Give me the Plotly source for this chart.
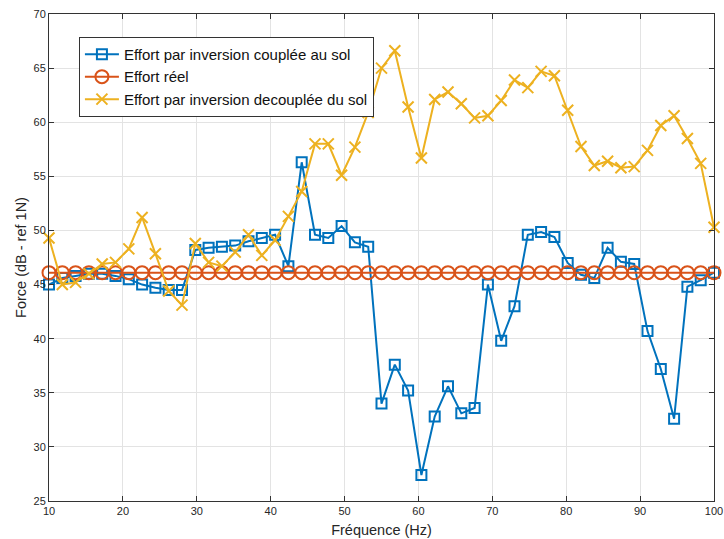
import plotly.graph_objects as go

freq = [round(10 + 1.8 * i, 1) for i in range(51)]

couplee = [45.0, 45.6, 45.8, 46.0, 46.0, 45.8, 45.5, 45.0, 44.7, 44.5,
           44.5, 48.2, 48.4, 48.5, 48.6, 49.0, 49.3, 49.6, 46.7, 56.3,
           49.6, 49.3, 50.4, 48.9, 48.5, 34.0, 37.6, 35.2, 27.4, 32.8,
           35.6, 33.1, 33.6, 45.0, 39.8, 43.0, 49.6, 49.85, 49.4, 47.0,
           45.9, 45.6, 48.4, 47.1, 46.9, 40.7, 37.2, 32.6, 44.8, 45.4,
           46.1]

reel = [46.1] * 51

decouplee = [49.3, 45.0, 45.2, 46.0, 46.9, 47.05, 48.3, 51.2, 47.85, 44.4,
             43.1, 48.8, 47.05, 46.7, 48.0, 49.6, 47.7, 49.1, 51.3, 53.6,
             58.0, 58.0, 55.1, 57.7, 60.9, 65.0, 66.6, 61.4, 56.7, 62.1,
             62.8, 61.7, 60.4, 60.6, 62.0, 63.9, 63.2, 64.7, 64.3, 61.1,
             57.75, 56.0, 56.4, 55.8, 55.9, 57.4, 59.7, 60.6, 58.5, 56.2,
             50.3]

names = ["Effort par inversion couplée au sol", "Effort réel",
         "Effort par inversion decouplée du sol"]

fig = go.Figure()
fig.add_trace(go.Scatter(x=freq, y=couplee, mode="lines+markers", name=names[0],
                         cliponaxis=False,
                         line=dict(color="#0072BD", width=2),
                         marker=dict(symbol="square-open", size=10, color="#0072BD",
                                     line=dict(width=2, color="#0072BD"))))
fig.add_trace(go.Scatter(x=freq, y=reel, mode="lines+markers", name=names[1],
                         cliponaxis=False,
                         line=dict(color="#D95319", width=2),
                         marker=dict(symbol="circle-open", size=13, color="#D95319",
                                     line=dict(width=2, color="#D95319"))))
fig.add_trace(go.Scatter(x=freq, y=decouplee, mode="lines+markers", name=names[2],
                         cliponaxis=False,
                         line=dict(color="#EDB120", width=2),
                         marker=dict(symbol="x-thin-open", size=11, color="#EDB120",
                                     line=dict(width=2, color="#EDB120"))))

axis_common = dict(showgrid=True, gridcolor="#e3e3e3", gridwidth=1,
                   showline=True, linecolor="#333333", linewidth=1, mirror="ticks",
                   ticks="inside", ticklen=5, tickcolor="#333333",
                   tickfont=dict(family="Liberation Sans, Arial", size=11, color="#262626"),
                   ticklabeloverflow="allow",
                   zeroline=False, automargin=False)

fig.update_layout(
    width=724, height=539,
    margin=dict(l=49, r=10, t=14, b=38),
    paper_bgcolor="white", plot_bgcolor="white",
    font=dict(family="Liberation Sans, Arial", color="#262626"),
    xaxis=dict(range=[10, 100], dtick=10, tick0=10,
               title=dict(text="Fréquence (Hz)", font=dict(size=14.5), standoff=8),
               **axis_common),
    yaxis=dict(range=[25, 70], dtick=5, tick0=25,
               title=dict(text="Force (dB - ref 1N)", font=dict(size=14.5), standoff=3),
               **axis_common),
    legend=dict(x=0.045, y=0.953, xanchor="left", yanchor="top",
                bgcolor="white", bordercolor="#333333", borderwidth=1,
                font=dict(size=15, color="#111111"),
                tracegroupgap=0, itemwidth=34),
    showlegend=True,
)

fig.write_html("out.html", config={"displayModeBar": False},
               post_script="document.body.style.margin='0';document.body.style.overflow='hidden';")
